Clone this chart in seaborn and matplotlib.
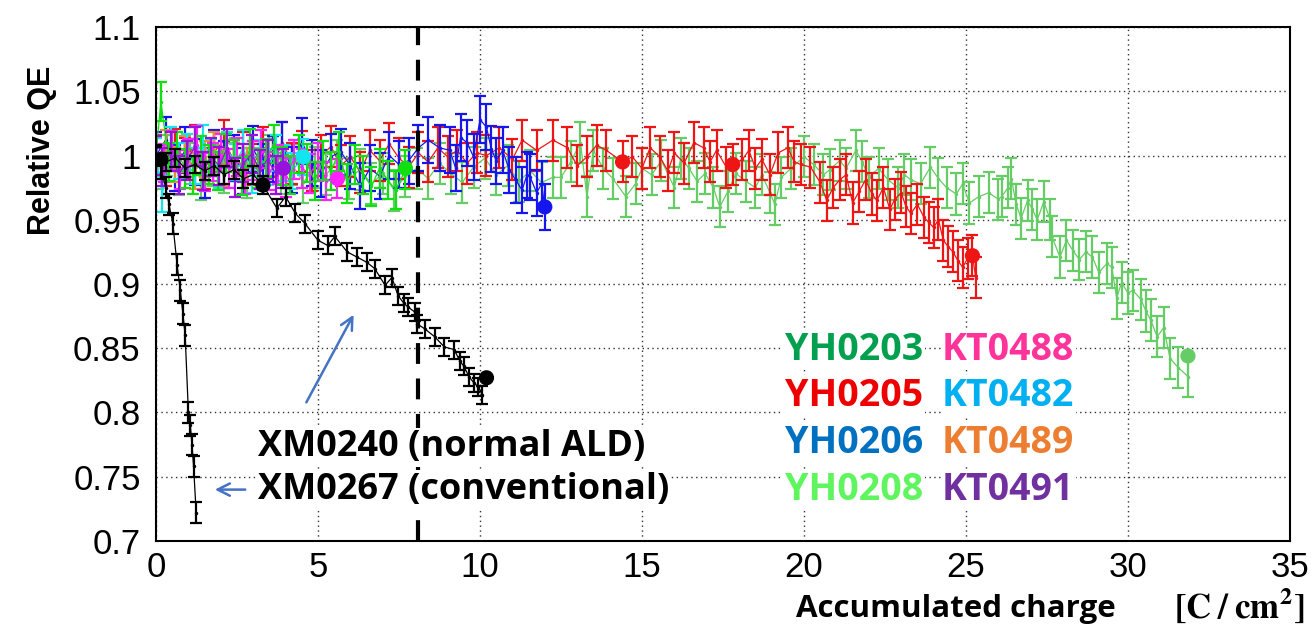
import numpy as np
import pandas as pd
import matplotlib
matplotlib.use("Agg")
import matplotlib.pyplot as plt
import seaborn as sns
from matplotlib.ticker import MultipleLocator, FuncFormatter

# ---- DATA ----
yh0203_x = [0.0, 0.15, 0.4, 0.65, 0.9, 1.15, 1.4, 1.65, 1.9, 2.15, 2.4, 2.65, 2.9, 3.15, 3.4, 3.65,
            3.9, 4.15, 4.4, 4.65, 4.9, 5.15, 5.4, 5.65, 5.9, 6.15, 6.4, 6.65, 6.9, 7.15, 7.4, 7.7]
yh0203_y = [1.0, 1.042, 0.995, 1.003, 0.99, 0.985, 1.0, 0.993, 0.988, 1.002, 0.997, 0.984, 1.006, 0.99,
            0.998, 1.009, 0.992, 0.985, 1.001, 0.994, 0.98, 0.996, 0.988, 1.003, 0.978, 0.993, 0.985,
            0.976, 0.99, 0.981, 0.973, 0.989]

yh0205_x = [0.0, 0.3, 0.6, 0.9, 1.2, 1.5, 1.8, 2.1, 2.4, 2.7, 3.0, 3.3, 3.6, 3.9, 4.2, 4.5, 4.8, 5.1,
            5.4, 5.7, 6.0, 6.3, 6.6, 6.9, 7.2, 7.5, 7.8, 8.1, 8.4, 8.7, 9.0, 9.3, 9.6, 9.9, 10.2,
            10.6, 11.0, 11.3, 11.75, 12.25, 12.7, 13.0, 13.3, 13.6, 13.9, 14.4, 14.7, 15.0, 15.25,
            15.55, 15.8, 16.0, 16.3, 16.6, 16.9, 17.1, 17.3, 17.6, 17.8, 18.1, 18.3, 18.5, 18.7,
            18.95, 19.2, 19.5, 19.7, 19.9, 20.2, 20.5, 20.7, 20.9, 21.1, 21.3, 21.5, 21.7, 21.9,
            22.1, 22.25, 22.45, 22.65, 22.8, 23.0, 23.15, 23.3, 23.5, 23.7, 23.85, 24.0, 24.15,
            24.3, 24.45, 24.6, 24.75, 24.9, 25.05, 25.2, 25.3]
yh0205_y = [1.0, 0.992, 1.005, 0.998, 1.008, 0.99, 1.003, 1.012, 0.996, 1.002, 0.993, 1.006, 0.999,
            1.01, 0.994, 1.003, 0.988, 1.0, 1.007, 0.992, 0.999, 0.987, 1.004, 0.996, 1.009, 0.998,
            0.991, 1.002, 0.995, 1.006, 0.999, 1.004, 0.994, 1.002, 1.0,
            1.006, 0.997, 1.012, 1.004, 1.012, 1.006, 0.992, 0.999, 1.008, 1.004, 0.995, 0.999, 0.99,
            1.006, 0.999, 0.988, 1.002, 0.994, 1.01, 1.006, 0.995, 1.004, 0.991, 0.993, 0.997, 1.004,
            0.99, 0.997, 0.985, 1.002, 1.006, 0.995, 0.993, 0.991, 0.979, 0.965, 0.975, 0.981, 0.985,
            0.963, 0.972, 0.981, 0.97, 0.965, 0.975, 0.958, 0.966, 0.971, 0.96, 0.955, 0.962, 0.952,
            0.948, 0.944, 0.95, 0.934, 0.929, 0.925, 0.918, 0.913, 0.92, 0.922, 0.905]

yh0206_x = [0.0, 0.3, 0.6, 0.9, 1.2, 1.5, 1.8, 2.1, 2.4, 2.7, 3.0, 3.3, 3.6, 3.9, 4.2, 4.5, 4.8, 5.1,
            5.4, 5.7, 6.0, 6.3, 6.6, 6.9, 7.2, 7.5, 7.8, 8.1, 8.4, 8.75, 9.07, 9.25, 9.4, 9.6, 9.8,
            10.0, 10.2, 10.35, 10.5, 10.7, 10.9, 11.1, 11.3, 11.45, 11.55, 11.75, 11.9, 12.0]
yh0206_y = [1.0, 1.012, 0.99, 1.004, 0.995, 0.985, 1.002, 0.993, 0.998, 0.988, 1.005, 0.991, 0.997,
            1.008, 0.989, 1.011, 0.994, 0.986, 0.999, 1.003, 0.992, 0.976, 0.99, 0.984, 1.0, 0.993,
            0.996, 1.006, 1.012, 1.006, 1.004, 0.99, 1.014, 1.01, 0.999, 1.028, 1.022, 1.005, 0.996,
            1.004, 0.989, 0.981, 0.973, 0.985, 0.983, 0.971, 0.978, 0.96]

yh0208_x = [0.0, 0.35, 0.7, 1.05, 1.4, 1.75, 2.1, 2.45, 2.8, 3.15, 3.5, 3.85, 4.2, 4.55, 4.9, 5.25,
            5.6, 5.95, 6.3, 6.65, 7.0, 7.35, 7.7, 8.05, 8.4, 8.75, 9.1, 9.45, 9.8, 10.15, 10.5, 10.85,
            11.2, 11.55, 11.9, 12.25, 12.5, 12.8, 13.1, 13.3, 13.5, 13.8, 14.1, 14.5, 14.8, 15.0,
            15.3, 15.6, 16.0, 16.2, 16.45, 16.7, 16.95, 17.2, 17.4, 17.65, 17.9, 18.2, 18.5, 18.7,
            18.95, 19.1, 19.3, 19.6, 20.0, 20.3, 20.6, 20.8, 21.1, 21.3, 21.6, 21.8, 22.0, 22.3,
            22.6, 22.9, 23.1, 23.3, 23.6, 23.9, 24.15, 24.4, 24.7, 24.9, 25.1, 25.4, 25.7, 26.0,
            26.1, 26.3, 26.4, 26.55, 26.7, 26.9, 27.05, 27.2, 27.4, 27.6, 27.65, 27.9, 28.1, 28.3,
            28.5, 28.7, 28.9, 29.1, 29.35, 29.5, 29.65, 29.8, 30.0, 30.15, 30.4, 30.55, 30.7, 30.9,
            31.1, 31.3, 31.55, 31.85]
yh0208_y = [0.99, 1.0, 0.985, 0.994, 0.981, 0.992, 0.987, 0.998, 0.983, 0.99, 1.0, 0.986, 0.993,
            0.979, 0.991, 0.985, 0.996, 0.982, 0.989, 0.978, 0.986, 0.973, 0.984, 0.99, 0.982, 0.994,
            0.986, 0.979, 0.991, 0.998, 0.985, 0.992, 0.98, 0.988, 0.979, 0.983, 0.983, 0.995, 1.01,
            0.968, 1.004, 0.99, 0.982, 0.968, 0.978, 0.99, 0.985, 0.996, 0.975, 0.998, 0.99, 0.98,
            0.986, 0.975, 0.96, 0.972, 0.986, 0.98, 0.975, 0.985, 0.971, 0.962, 0.983, 0.99, 0.999,
            0.993, 0.985, 0.989, 0.996, 0.99, 1.004, 0.995, 0.983, 0.99, 0.981, 0.975, 0.985, 0.981,
            0.978, 0.991, 0.982, 0.975, 0.97, 0.978, 0.963, 0.968, 0.971, 0.966, 0.968, 0.975, 0.982,
            0.962, 0.951, 0.965, 0.958, 0.95, 0.964, 0.95, 0.937, 0.921, 0.934, 0.926, 0.919, 0.925,
            0.921, 0.909, 0.916, 0.913, 0.889, 0.901, 0.893, 0.895, 0.888, 0.879, 0.872, 0.859,
            0.866, 0.842, 0.835, 0.828]

kt0488_x = [0.0, 0.25, 0.5, 0.75, 1.0, 1.25, 1.5, 1.75, 2.0, 2.25, 2.5, 2.75, 3.0, 3.25, 3.5, 3.75,
            4.0, 4.25, 4.5, 4.75, 5.0, 5.25, 5.6]
kt0488_y = [1.0, 0.994, 1.004, 0.989, 0.998, 1.008, 0.987, 0.995, 1.002, 0.99, 0.999, 0.985, 0.996,
            1.005, 0.988, 0.993, 0.983, 0.997, 0.99, 0.986, 0.995, 0.98, 0.982]

kt0482_x = [0.0, 0.2, 0.45, 0.7, 0.95, 1.2, 1.45, 1.7, 1.95, 2.2, 2.45, 2.7, 2.95, 3.2, 3.45, 3.7,
            3.95, 4.2, 4.55]
kt0482_y = [1.0, 0.97, 1.008, 0.996, 1.003, 0.992, 1.01, 0.999, 0.989, 1.004, 0.995, 1.006, 0.985,
            0.998, 0.991, 1.002, 0.994, 0.988, 0.999]

kt0489_x = [0.0, 0.3, 0.6, 0.9, 1.2, 1.5, 1.8, 2.1, 2.4, 2.8]
kt0489_y = [1.0, 1.006, 0.993, 1.001, 0.988, 0.997, 1.004, 0.99, 0.996, 0.992]

kt0491_x = [0.0, 0.2, 0.45, 0.7, 0.95, 1.2, 1.45, 1.7, 1.95, 2.2, 2.45, 2.7, 2.95, 3.2, 3.45, 3.7, 3.93]
kt0491_y = [1.0, 0.991, 1.003, 0.985, 0.996, 1.007, 0.988, 0.999, 0.992, 1.006, 0.983, 0.994, 1.001,
            0.989, 0.997, 0.985, 0.99]

xm0240_x = [0.0, 0.3, 0.6, 0.9, 1.2, 1.5, 1.8, 2.1, 2.4, 2.7, 3.0, 3.3, 3.73, 4.0, 4.3, 4.6, 5.0,
            5.3, 5.52, 5.9, 6.2, 6.5, 6.75, 7.07, 7.28, 7.47, 7.65, 7.78, 8.0, 8.06, 8.3, 8.6, 8.9,
            9.2, 9.38, 9.5, 9.66, 9.81, 9.95, 10.06]
xm0240_y = [1.0, 0.995, 0.998, 0.99, 0.993, 0.988, 0.992, 0.985, 0.989, 0.982, 0.985, 0.977, 0.959,
            0.968, 0.955, 0.947, 0.934, 0.93, 0.937, 0.925, 0.921, 0.917, 0.912, 0.899, 0.905, 0.891,
            0.885, 0.882, 0.878, 0.869, 0.865, 0.859, 0.851, 0.849, 0.84, 0.836, 0.828, 0.823, 0.82,
            0.814]

xm0267_x = [0.0, 0.15, 0.3, 0.4, 0.52, 0.65, 0.75, 0.83, 0.9, 1.0, 1.06, 1.11, 1.16, 1.24]
xm0267_y = [1.0, 0.99, 0.975, 0.962, 0.947, 0.915, 0.895, 0.877, 0.86, 0.80, 0.79, 0.775, 0.758, 0.722]

# typical error per sample
sample_err = {"YH0203": 0.015, "YH0205": 0.016, "YH0206": 0.018, "YH0208": 0.016,
              "KT0488": 0.015, "KT0482": 0.014, "KT0489": 0.014, "KT0491": 0.015,
              "XM0240": 0.007, "XM0267": 0.008}

# big dots on the curves
dot_sample = ["XM0267", "XM0240", "XM0240", "YH0203", "YH0205", "YH0205", "YH0205",
              "YH0206", "YH0208", "KT0488", "KT0482", "KT0491"]
dot_x = [0.15, 3.3, 10.2, 7.7, 14.4, 17.8, 25.2, 12.0, 31.85, 5.6, 4.55, 3.93]
dot_y = [0.997, 0.977, 0.827, 0.99, 0.995, 0.993, 0.922, 0.96, 0.844, 0.982, 0.999, 0.99]

data_colors = {"YH0203": "#10e010", "YH0205": "#ee1515", "YH0206": "#1515ee", "YH0208": "#66cc66",
               "KT0488": "#ff22ff", "KT0482": "#11e6ee", "KT0489": "#e8902e", "KT0491": "#9911dd",
               "XM0240": "black", "XM0267": "black"}

label_rows = [("YH0203", "KT0488"), ("YH0205", "KT0482"), ("YH0206", "KT0489"), ("YH0208", "KT0491")]
label_colors = {"YH0203": "#00a04f", "KT0488": "#ff3399", "YH0205": "#ee0000", "KT0482": "#00b0f0",
                "YH0206": "#0070c0", "KT0489": "#ed7d31", "YH0208": "#5ef55e", "KT0491": "#7030a0"}

BOLD_FONT = ["Open Sans", "DejaVu Sans"]


def build_df():
    series = {
        "YH0208": (yh0208_x, yh0208_y), "YH0205": (yh0205_x, yh0205_y),
        "YH0206": (yh0206_x, yh0206_y), "KT0489": (kt0489_x, kt0489_y),
        "KT0482": (kt0482_x, kt0482_y), "KT0488": (kt0488_x, kt0488_y),
        "YH0203": (yh0203_x, yh0203_y), "KT0491": (kt0491_x, kt0491_y),
        "XM0240": (xm0240_x, xm0240_y), "XM0267": (xm0267_x, xm0267_y),
    }
    frames = []
    for name, (xs, ys) in series.items():
        frames.append(pd.DataFrame({"sample": name, "x": xs, "y": ys, "err": sample_err[name]}))
    return pd.concat(frames, ignore_index=True)


def main():
    sns.set_style("white")
    plt.rcParams["font.family"] = ["Liberation Sans", "DejaVu Sans"]
    plt.rcParams["mathtext.fontset"] = "stix"
    plt.rcParams["text.color"] = "black"

    df = build_df()

    fig = plt.figure(figsize=(13.13, 6.24), dpi=100)
    ax = fig.add_axes([156 / 1313, 83 / 624, 1134 / 1313, 514 / 624])

    # ---- SERIES ----
    for name in df["sample"].unique():
        sub = df[df["sample"] == name]
        col = data_colors[name]
        sns.lineplot(data=sub, x="x", y="y", color=col, estimator=None, sort=False,
                     lw=0.9, marker="o", markersize=2.5, markeredgewidth=0, ax=ax)
        ax.errorbar(sub["x"], sub["y"], yerr=sub["err"], fmt="none", ecolor=col,
                    elinewidth=1.6, capsize=4.5, capthick=1.6)

    dots = pd.DataFrame({"sample": dot_sample, "x": dot_x, "y": dot_y})
    sns.scatterplot(data=dots, x="x", y="y", hue="sample", palette=data_colors, s=120,
                    linewidth=0, legend=False, zorder=5, ax=ax)

    # dashed reference line
    ax.axvline(8.1, color="black", lw=3, ls=(0, (5, 3.5)), zorder=6)

    # ---- AXES ----
    ax.set_xlim(0, 35)
    ax.set_ylim(0.7, 1.1)
    ax.xaxis.set_major_locator(MultipleLocator(5))
    ax.xaxis.set_minor_locator(MultipleLocator(1))
    ax.yaxis.set_major_locator(MultipleLocator(0.05))
    ax.yaxis.set_minor_locator(MultipleLocator(0.01))
    ax.yaxis.set_major_formatter(FuncFormatter(lambda v, p: f"{v:g}"))
    ax.xaxis.set_major_formatter(FuncFormatter(lambda v, p: f"{v:g}"))
    ax.tick_params(axis="both", which="both", direction="in", top=False, right=False,
                   width=1.5, colors="black", labelsize=25)
    ax.tick_params(axis="y", which="major", length=25, pad=11)
    ax.tick_params(axis="y", which="minor", length=12)
    ax.tick_params(axis="x", which="major", length=11, pad=7)
    ax.tick_params(axis="x", which="minor", length=6)
    ax.grid(True, which="major", ls=(0, (1, 2.5)), color="#333333", lw=1)
    ax.set_axisbelow(True)
    for sp in ax.spines.values():
        sp.set_color("black")
        sp.set_linewidth(1.5)
    ax.set_xlabel("")
    ax.set_ylabel("")

    fig.text(42 / 1313, 1 - 150 / 624, "Relative QE", rotation=90, ha="center", va="center",
             fontsize=22, fontweight="bold", color="black")
    fig.text(1304 / 1313, 6 / 624, r"$\mathbf{[C\;/\;cm^{2}]}$", ha="right", va="baseline",
             fontsize=25, color="black")
    fig.text(1116 / 1313, 7 / 624, "Accumulated charge", ha="right", va="baseline",
             fontsize=22.5, fontweight="bold", family=BOLD_FONT, color="black")

    # ---- ANNOTATIONS ----
    box = dict(facecolor="white", edgecolor="none", pad=1)
    ax.text(3.15, 0.773, "XM0240 (normal ALD)", fontsize=26, fontweight="bold", color="black",
            family=BOLD_FONT, va="center", ha="left", bbox=box, zorder=7)
    ax.text(3.15, 0.740, "XM0267 (conventional)", fontsize=26, fontweight="bold", color="black",
            family=BOLD_FONT, va="center", ha="left", bbox=box, zorder=7)
    arrow = dict(arrowstyle="->", color="#4472c4", lw=1.8, mutation_scale=22)
    ax.annotate("", xy=(6.14, 0.878), xytext=(4.6, 0.806), arrowprops=arrow)
    ax.annotate("", xy=(1.73, 0.740), xytext=(2.84, 0.740), arrowprops=arrow)

    row_y = [0.849, 0.813, 0.776, 0.740]
    for (left, right), yy in zip(label_rows, row_y):
        ax.text(19.41, yy, left, color=label_colors[left], fontsize=27, fontweight="bold",
                family=BOLD_FONT, va="center", ha="left", bbox=box, zorder=7)
        ax.text(24.26, yy, right, color=label_colors[right], fontsize=27, fontweight="bold",
                family=BOLD_FONT, va="center", ha="left", bbox=box, zorder=7)

    fig.savefig("out.png", dpi=100)


if __name__ == "__main__":
    main()
